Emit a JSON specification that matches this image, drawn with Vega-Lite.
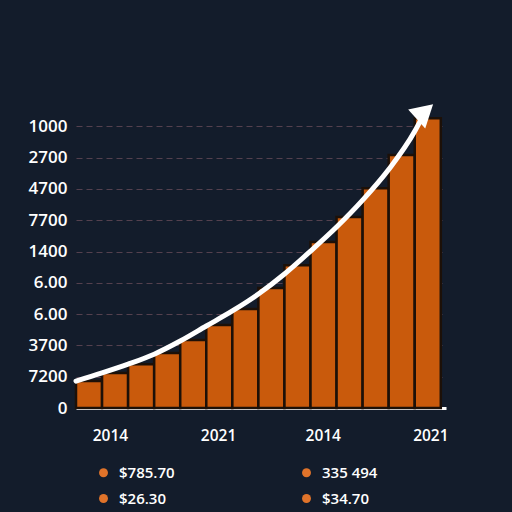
{
  "$schema": "https://vega.github.io/schema/vega-lite/v6.json",
  "width": 370,
  "height": 313,
  "autosize": {"type": "none"},
  "padding": {"left": 76, "top": 95, "right": 66, "bottom": 104},
  "background": "#131c2b",
  "config": {
    "view": {"stroke": null},
    "font": "Open Sans",
    "axis": {"labelFont": "Open Sans", "labelColor": "#ffffff", "labelFontSize": 15, "labelFontWeight": 600},
    "legend": {"labelFont": "Open Sans", "labelColor": "#ffffff", "labelFontSize": 15, "labelFontWeight": 600}
  },
  "datasets": {
    "bars": [
      {"start": 0, "end": 1, "value": 0.86},
      {"start": 1, "end": 2, "value": 1.12},
      {"start": 2, "end": 3, "value": 1.40},
      {"start": 3, "end": 4, "value": 1.76},
      {"start": 4, "end": 5, "value": 2.17},
      {"start": 5, "end": 6, "value": 2.65},
      {"start": 6, "end": 7, "value": 3.16},
      {"start": 7, "end": 8, "value": 3.83},
      {"start": 8, "end": 9, "value": 4.56},
      {"start": 9, "end": 10, "value": 5.30},
      {"start": 10, "end": 11, "value": 6.10},
      {"start": 11, "end": 12, "value": 7.02},
      {"start": 12, "end": 13, "value": 8.08},
      {"start": 13, "end": 14, "value": 9.26}
    ],
    "curve": [
      {"x": 0, "y": 0.86},
      {"x": 1, "y": 1.12},
      {"x": 2, "y": 1.40},
      {"x": 3, "y": 1.72},
      {"x": 4, "y": 2.14},
      {"x": 5, "y": 2.62},
      {"x": 6, "y": 3.10},
      {"x": 7, "y": 3.64},
      {"x": 8, "y": 4.28},
      {"x": 9, "y": 5.01},
      {"x": 10, "y": 5.78},
      {"x": 11, "y": 6.64},
      {"x": 12, "y": 7.62},
      {"x": 13, "y": 8.84},
      {"x": 13.2, "y": 9.15}
    ],
    "arrow": [{"x": 13.39, "y": 9.47}],
    "legend": [
      {"label": "$785.70"},
      {"label": "$26.30"},
      {"label": "335 494"},
      {"label": "$34.70"}
    ]
  },
  "layer": [
    {
      "data": {"name": "bars"},
      "mark": {"type": "rect", "fill": "#c95a0c", "stroke": "#1c1008", "strokeWidth": 2.5},
      "encoding": {
        "x": {
          "field": "start", "type": "quantitative",
          "scale": {"domain": [0, 14.2], "nice": false, "zero": false},
          "axis": {
            "title": null,
            "values": [1.3, 5.45, 9.47, 13.6],
            "labelExpr": "datum.value < 3 ? '2014' : datum.value < 7 ? '2021' : datum.value < 11 ? '2014' : '2021'",
            "grid": false, "ticks": false,
            "domain": true, "domainColor": "#ffffff", "domainWidth": 3,
            "labelPadding": 20, "labelFontSize": 15.5
          }
        },
        "x2": {"field": "end"},
        "y": {
          "field": "value", "type": "quantitative",
          "scale": {"domain": [0, 10], "nice": false},
          "axis": {
            "title": null,
            "values": [0, 1, 2, 3, 4, 5, 6, 7, 8, 9],
            "labelExpr": "['0','7200','3700','6.00','6.00','1400','7700','4700','2700','1000'][datum.value]",
            "labelOverlap": false, "labelFontSize": 17,
            "grid": true, "gridColor": "#54404e", "gridDash": [6, 4], "gridWidth": 1,
            "ticks": false, "domain": false, "labelPadding": 9
          }
        },
        "y2": {"datum": 0}
      }
    },
    {
      "data": {"name": "curve"},
      "mark": {"type": "line", "color": "#ffffff", "strokeWidth": 5, "interpolate": "monotone", "strokeCap": "round"},
      "encoding": {
        "x": {
          "field": "x", "type": "quantitative",
          "axis": {
            "title": null,
            "values": [1.3, 5.45, 9.47, 13.6],
            "labelExpr": "datum.value < 3 ? '2014' : datum.value < 7 ? '2021' : datum.value < 11 ? '2014' : '2021'",
            "grid": false, "ticks": false,
            "domain": true, "domainColor": "#ffffff", "domainWidth": 3,
            "labelPadding": 20, "labelFontSize": 15.5
          }
        },
        "y": {
          "field": "y", "type": "quantitative",
          "axis": {
            "title": null,
            "values": [0, 1, 2, 3, 4, 5, 6, 7, 8, 9],
            "labelExpr": "['0','7200','3700','6.00','6.00','1400','7700','4700','2700','1000'][datum.value]",
            "labelOverlap": false, "labelFontSize": 17,
            "grid": true, "gridColor": "#54404e", "gridDash": [6, 4], "gridWidth": 1,
            "ticks": false, "domain": false, "labelPadding": 9
          }
        }
      }
    },
    {
      "data": {"name": "arrow"},
      "mark": {"type": "point", "shape": "triangle-up", "filled": true, "color": "#ffffff", "opacity": 1, "size": 650, "angle": 48},
      "encoding": {
        "x": {
          "field": "x", "type": "quantitative",
          "axis": {
            "title": null,
            "values": [1.3, 5.45, 9.47, 13.6],
            "labelExpr": "datum.value < 3 ? '2014' : datum.value < 7 ? '2021' : datum.value < 11 ? '2014' : '2021'",
            "grid": false, "ticks": false,
            "domain": true, "domainColor": "#ffffff", "domainWidth": 3,
            "labelPadding": 20, "labelFontSize": 15.5
          }
        },
        "y": {
          "field": "y", "type": "quantitative",
          "axis": {
            "title": null,
            "values": [0, 1, 2, 3, 4, 5, 6, 7, 8, 9],
            "labelExpr": "['0','7200','3700','6.00','6.00','1400','7700','4700','2700','1000'][datum.value]",
            "labelOverlap": false, "labelFontSize": 17,
            "grid": true, "gridColor": "#54404e", "gridDash": [6, 4], "gridWidth": 1,
            "ticks": false, "domain": false, "labelPadding": 9
          }
        }
      }
    },
    {
      "data": {"name": "legend"},
      "mark": {"type": "point", "filled": true, "opacity": 0},
      "encoding": {
        "x": {
          "datum": 0, "type": "quantitative",
          "axis": {
            "title": null,
            "values": [1.3, 5.45, 9.47, 13.6],
            "labelExpr": "datum.value < 3 ? '2014' : datum.value < 7 ? '2021' : datum.value < 11 ? '2014' : '2021'",
            "grid": false, "ticks": false,
            "domain": true, "domainColor": "#ffffff", "domainWidth": 3,
            "labelPadding": 20, "labelFontSize": 15.5
          }
        },
        "y": {
          "datum": 0, "type": "quantitative",
          "axis": {
            "title": null,
            "values": [0, 1, 2, 3, 4, 5, 6, 7, 8, 9],
            "labelExpr": "['0','7200','3700','6.00','6.00','1400','7700','4700','2700','1000'][datum.value]",
            "labelOverlap": false, "labelFontSize": 17,
            "grid": true, "gridColor": "#54404e", "gridDash": [6, 4], "gridWidth": 1,
            "ticks": false, "domain": false, "labelPadding": 9
          }
        },
        "color": {
          "field": "label", "type": "nominal",
          "scale": {"domain": ["$785.70", "$26.30", "335 494", "$34.70"], "range": ["#e0732a", "#e0732a", "#e0732a", "#e0732a"]},
          "legend": {
            "title": null, "orient": "none", "legendX": 20, "legendY": 370,
            "columns": 2, "columnPadding": 124, "rowPadding": 10, "padding": 0,
            "symbolType": "circle", "symbolSize": 80, "symbolOpacity": 1, "symbolStrokeWidth": 0,
            "labelOffset": 8
          }
        }
      }
    }
  ]
}
